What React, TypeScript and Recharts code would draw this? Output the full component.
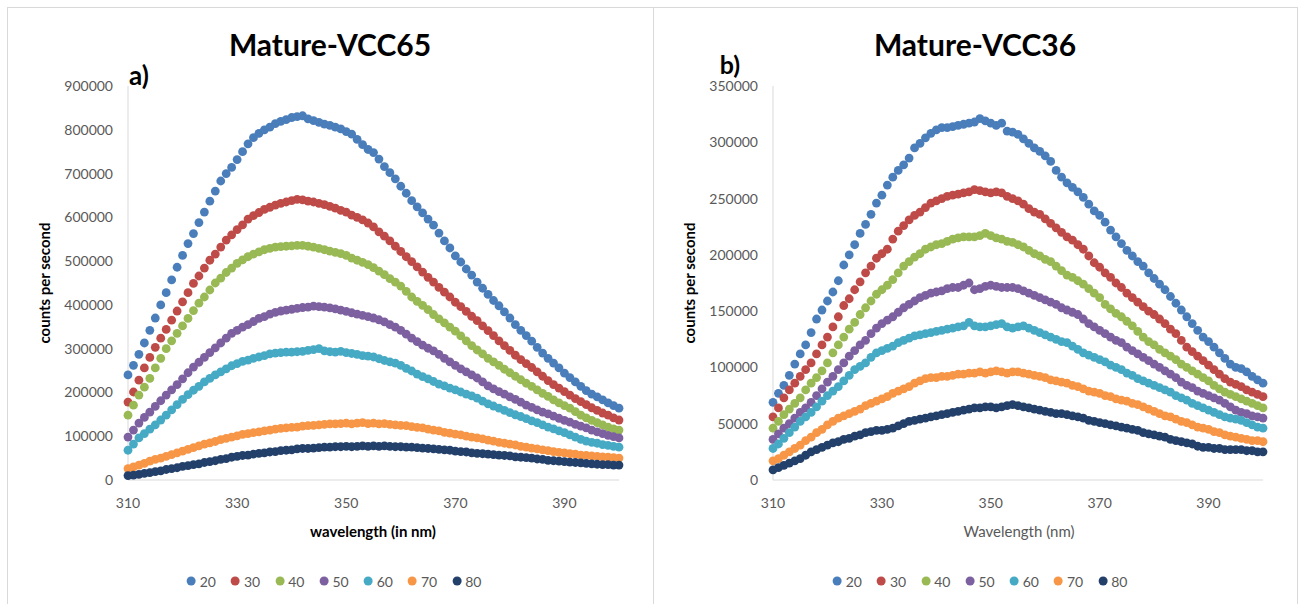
import { Scatter, ScatterChart, XAxis, YAxis } from "recharts";

// excitation wavelength, nm
const wavelength = [
  310, 311, 312, 313, 314, 315, 316, 317, 318, 319,
  320, 321, 322, 323, 324, 325, 326, 327, 328, 329,
  330, 331, 332, 333, 334, 335, 336, 337, 338, 339,
  340, 341, 342, 343, 344, 345, 346, 347, 348, 349,
  350, 351, 352, 353, 354, 355, 356, 357, 358, 359,
  360, 361, 362, 363, 364, 365, 366, 367, 368, 369,
  370, 371, 372, 373, 374, 375, 376, 377, 378, 379,
  380, 381, 382, 383, 384, 385, 386, 387, 388, 389,
  390, 391, 392, 393, 394, 395, 396, 397, 398, 399, 400,
];

const temps = ["20", "30", "40", "50", "60", "70", "80"];
const colors = ["#4A7EBB", "#BE4B48", "#98B954", "#7D60A0", "#46AAC5", "#F79646", "#23406B"];

// panel a) Mature-VCC65, counts per second in thousands
const a20 = [
  240, 262, 287, 313, 342, 370, 400, 428, 457, 486,
  513, 540, 563, 588, 612, 637, 660, 683, 700, 714,
  732, 750, 768, 782, 792, 800, 806, 814, 819, 823,
  828, 830, 832, 825, 821, 817, 813, 810, 806, 802,
  796, 790, 778, 766, 755, 748, 733, 716, 702, 688,
  671, 655, 638, 624, 610, 596, 582, 564, 546, 530,
  512, 498, 482, 468, 452, 438, 424, 410, 398, 384,
  370, 355, 342, 330, 317, 303, 290, 278, 267, 256,
  244, 234, 224, 214, 204, 196, 190, 183, 176, 170, 164,
];
const a30 = [
  178, 201, 228, 256, 280, 303, 324, 344, 365, 386,
  407, 428, 449, 466, 484, 502, 516, 532, 548, 560,
  572, 583, 596, 604, 611, 618, 623, 628, 632, 635,
  638, 641, 640, 637, 635, 632, 629, 625, 621, 616,
  612, 605, 600, 594, 587, 578, 567, 557, 546, 534,
  522, 510, 499, 487, 475, 463, 452, 440, 429, 418,
  406, 396, 385, 374, 364, 352, 341, 330, 318, 307,
  296, 285, 275, 266, 257, 247, 237, 227, 218, 210,
  202, 194, 186, 179, 172, 165, 159, 153, 148, 142, 137,
];
const a40 = [
  148, 171, 194, 212, 232, 256, 278, 300, 318, 335,
  352, 369, 387, 404, 418, 434, 450, 461, 474, 484,
  495, 503, 510, 516, 521, 526, 529, 532, 533, 534,
  535, 536, 536, 534, 532, 529, 526, 523, 520, 517,
  513, 507, 502, 497, 492, 485, 477, 469, 460, 452,
  443, 431, 418, 408, 399, 389, 378, 368, 359, 349,
  340, 329, 318, 307, 297, 288, 278, 270, 262, 253,
  245, 237, 229, 221, 214, 206, 198, 191, 183, 176,
  170, 164, 156, 148, 142, 136, 131, 126, 121, 117, 114,
];
const a50 = [
  98, 114, 130, 143, 155, 168, 181, 194, 206, 218,
  231, 245, 258, 269, 280, 291, 302, 313, 324, 335,
  342, 349, 355, 362, 369, 373, 379, 383, 386, 388,
  390, 392, 394, 395, 397, 396, 395, 393, 391, 388,
  385, 382, 379, 376, 373, 370, 366, 361, 355, 349,
  342, 333, 324, 316, 308, 301, 295, 287, 278, 270,
  262, 254, 247, 240, 233, 224, 215, 208, 202, 196,
  190, 184, 178, 171, 166, 160, 155, 151, 146, 141,
  136, 132, 127, 123, 119, 114, 110, 106, 102, 99, 96,
];
const a60 = [
  68, 82, 96, 106, 116, 126, 137, 148, 160, 172,
  184, 195, 205, 214, 224, 232, 240, 247, 254, 261,
  266, 271, 274, 278, 281, 284, 288, 290, 291, 292,
  292, 293, 294, 296, 298, 300, 295, 293, 292, 294,
  291, 289, 287, 284, 283, 281, 277, 273, 270, 267,
  262, 255, 249, 242, 236, 231, 225, 219, 215, 210,
  206, 201, 196, 192, 187, 180, 174, 169, 164, 159,
  154, 149, 145, 140, 135, 131, 126, 121, 117, 112,
  108, 103, 98, 93, 89, 86, 84, 81, 79, 77, 75,
];
const a70 = [
  26, 30, 34, 38, 43, 47, 50, 54, 58, 62,
  66, 70, 74, 78, 82, 85, 88, 92, 95, 98,
  101, 104, 106, 108, 110, 112, 114, 116, 118, 119,
  120, 121, 123, 124, 125, 126, 127, 128, 128, 129,
  130, 128, 130, 131, 129, 130, 128, 129, 127, 126,
  125, 124, 122, 120, 119, 116, 114, 112, 109, 107,
  105, 103, 100, 98, 96, 94, 91, 89, 86, 84,
  82, 80, 77, 75, 73, 71, 69, 67, 65, 63,
  62, 60, 59, 57, 56, 55, 54, 53, 52, 51, 50,
];
const a80 = [
  10, 11, 13, 15, 17, 19, 21, 24, 26, 28,
  31, 33, 35, 37, 40, 42, 44, 47, 49, 52,
  54, 56, 57, 59, 61, 62, 64, 65, 67, 68,
  69, 71, 72, 72, 73, 74, 75, 75, 76, 76,
  77, 76, 77, 78, 77, 78, 77, 78, 77, 76,
  76, 75, 75, 74, 73, 72, 71, 70, 69, 68,
  66, 65, 64, 62, 61, 60, 59, 58, 57, 56,
  55, 53, 52, 51, 50, 48, 47, 45, 44, 43,
  42, 41, 40, 39, 38, 37, 36, 35, 35, 34, 34,
];

// panel b) Mature-VCC36, counts per second in thousands
const b20 = [
  69, 77, 84, 93, 103, 112, 120, 131, 143, 151,
  159, 167, 177, 191, 200, 209, 219, 227, 236, 246,
  253, 262, 269, 275, 280, 286, 295, 299, 304, 308,
  311, 313, 313, 314, 315, 316, 317, 318, 321, 319,
  317, 315, 317, 310, 309, 307, 303, 299, 295, 292,
  288, 283, 275, 269, 264, 260, 256, 251, 245, 239,
  235, 229, 222, 216, 210, 204, 199, 194, 190, 184,
  179, 174, 169, 163, 157, 151, 145, 139, 133, 127,
  123, 118, 113, 108, 103, 100, 99, 96, 92, 89, 86,
];
const b30 = [
  56, 64, 73, 80, 86, 92, 98, 104, 112, 120,
  127, 136, 145, 155, 161, 169, 176, 184, 190, 197,
  201, 205, 214, 221, 226, 231, 235, 238, 242, 246,
  248, 250, 252, 253, 254, 255, 256, 258, 257, 256,
  255, 256, 255, 252, 250, 248, 245, 241, 238, 236,
  232, 228, 224, 220, 216, 213, 209, 205, 199, 193,
  189, 184, 180, 175, 171, 166, 162, 158, 154, 150,
  147, 143, 139, 134, 130, 124, 118, 114, 110, 106,
  102, 98, 94, 90, 87, 85, 83, 80, 78, 76, 74,
];
const b40 = [
  46, 52, 58, 63, 68, 73, 80, 86, 91, 97,
  104, 113, 120, 127, 134, 140, 147, 153, 159, 165,
  169, 173, 178, 184, 190, 194, 198, 201, 205, 207,
  209, 210, 212, 214, 215, 216, 216, 216, 217, 219,
  217, 215, 214, 212, 211, 209, 207, 204, 201, 199,
  196, 194, 190, 186, 182, 180, 177, 174, 170, 166,
  162, 156, 152, 148, 145, 141, 137, 132, 127, 123,
  120, 116, 113, 110, 107, 103, 100, 97, 94, 91,
  88, 84, 81, 78, 76, 74, 72, 70, 68, 66, 64,
];
const b50 = [
  36, 41, 46, 50, 55, 60, 64, 69, 75, 81,
  87, 92, 98, 104, 110, 115, 120, 124, 130, 135,
  139, 142, 145, 149, 153, 156, 159, 162, 164, 166,
  167, 168, 170, 171, 171, 173, 175, 169, 170, 172,
  173, 172, 171, 171, 171, 170, 168, 166, 164, 162,
  160, 158, 156, 153, 151, 149, 147, 143, 139, 136,
  133, 130, 127, 124, 122, 118, 115, 112, 109, 106,
  103, 100, 97, 94, 91, 87, 84, 82, 79, 77,
  75, 73, 71, 68, 65, 62, 60, 59, 57, 56, 55,
];
const b60 = [
  28, 32, 37, 42, 47, 52, 56, 60, 65, 70,
  75, 79, 83, 88, 93, 98, 101, 104, 109, 113,
  115, 117, 119, 122, 124, 126, 128, 129, 130, 131,
  132, 133, 134, 135, 136, 137, 140, 137, 136, 136,
  137, 138, 139, 136, 135, 136, 137, 135, 133, 131,
  129, 127, 125, 123, 122, 119, 116, 113, 111, 109,
  107, 105, 102, 100, 98, 95, 93, 90, 88, 86,
  84, 82, 80, 78, 75, 73, 71, 68, 66, 64,
  62, 60, 58, 56, 55, 54, 53, 51, 49, 47, 46,
];
const b70 = [
  17, 19, 22, 25, 28, 31, 35, 38, 42, 45,
  49, 52, 55, 57, 59, 61, 63, 66, 68, 70,
  72, 74, 77, 79, 81, 83, 86, 88, 90, 91,
  91, 92, 92, 93, 94, 94, 95, 95, 96, 95,
  96, 97, 96, 95, 96, 96, 95, 94, 93, 92,
  91, 89, 88, 87, 86, 84, 83, 81, 79, 78,
  77, 75, 74, 72, 71, 70, 68, 67, 65, 63,
  61, 59, 57, 56, 54, 52, 51, 49, 47, 46,
  45, 43, 42, 40, 39, 38, 37, 36, 35, 35, 34,
];
const b80 = [
  9, 11, 13, 15, 17, 19, 22, 25, 27, 29,
  31, 33, 34, 36, 37, 39, 40, 42, 43, 44,
  44, 45, 46, 48, 50, 52, 53, 54, 55, 56,
  57, 58, 59, 60, 61, 62, 63, 64, 64, 65,
  65, 64, 65, 66, 67, 66, 65, 64, 63, 62,
  61, 60, 59, 59, 58, 57, 56, 55, 53, 52,
  51, 50, 49, 48, 47, 46, 45, 44, 42, 41,
  40, 39, 38, 36, 35, 34, 33, 32, 30, 29,
  29, 28, 28, 27, 27, 27, 27, 26, 26, 25, 25,
];

const xTicks = [310, 330, 350, 370, 390];
const aTicks = [0, 100000, 200000, 300000, 400000, 500000, 600000, 700000, 800000, 900000];
const bTicks = [0, 50000, 100000, 150000, 200000, 250000, 300000, 350000];

const font = "Lato, 'Open Sans', sans-serif";
const tickStyle = { fill: "#595959", fontSize: 14, fontFamily: font };
const gridGray = "#d9d9d9";

const toPoints = (vals: number[]) => wavelength.map((x, i) => ({ x, y: vals[i] * 1000 }));

function Panel({
  left, width, margin, series, yTicks,
}: {
  left: number;
  width: number;
  margin: { top: number; right: number; bottom: number; left: number };
  series: number[][];
  yTicks: number[];
}) {
  return (
    <div style={{ position: "absolute", left, top: 0 }}>
      <ScatterChart width={width} height={604} margin={margin}>
        <XAxis
          type="number" dataKey="x" domain={[310, 400]} ticks={xTicks} interval={0}
          tickLine={false} axisLine={{ stroke: gridGray }} tick={tickStyle}
          tickSize={8} tickMargin={10} height={30}
        />
        <YAxis
          type="number" dataKey="y" domain={[0, yTicks[yTicks.length - 1]]} ticks={yTicks} interval={0}
          tickLine={false} axisLine={{ stroke: gridGray }} tick={tickStyle}
          tickSize={8} tickMargin={7} width={80}
        />
        {series.map((vals, i) => (
          <Scatter
            key={temps[i]}
            name={temps[i]}
            data={toPoints(vals)}
            fill={colors[i]}
            isAnimationActive={false}
            shape={(p: any) => <circle cx={p.cx} cy={p.cy} r={4.4} fill={colors[i]} />}
          />
        ))}
      </ScatterChart>
    </div>
  );
}

function Legend({ cx, cy }: { cx: number; cy: number }) {
  return (
    <div
      style={{
        position: "absolute", left: cx, top: cy, transform: "translate(-50%, -50%)",
        display: "flex", alignItems: "center", whiteSpace: "nowrap",
        fontFamily: font, fontSize: 14, color: "#595959",
      }}
    >
      {temps.map((t, i) => (
        <span key={t} style={{ display: "flex", alignItems: "center", marginRight: i < temps.length - 1 ? 15 : 0 }}>
          <span style={{ width: 9, height: 9, borderRadius: "50%", background: colors[i], marginRight: 4 }} />
          {t}
        </span>
      ))}
    </div>
  );
}

const centered = (x: number, y: number, extra: object = {}) => ({
  position: "absolute" as const, left: x, top: y, transform: "translate(-50%, -50%)",
  whiteSpace: "nowrap" as const, lineHeight: 1, fontFamily: font, ...extra,
});

export default function App() {
  return (
    <div style={{ position: "absolute", left: 0, top: 0, width: 1301, height: 604, background: "#fff", overflow: "hidden" }}>
      {/* рамки панелей */}
      <div style={{ position: "absolute", left: 7, top: 7, width: 645, height: 640, border: `1px solid ${gridGray}` }} />
      <div style={{ position: "absolute", left: 652, top: 7, width: 645, height: 640, borderTop: `1px solid ${gridGray}`, borderRight: `1px solid ${gridGray}` }} />

      <Panel left={0} width={650} margin={{ top: 86, right: 31, bottom: 94, left: 48 }} series={[a20, a30, a40, a50, a60, a70, a80]} yTicks={aTicks} />
      <Panel left={650} width={651} margin={{ top: 86, right: 38, bottom: 94, left: 43 }} series={[b20, b30, b40, b50, b60, b70, b80]} yTicks={bTicks} />

      <div style={centered(330, 44, { fontSize: 30, fontWeight: 700 })}>Mature-VCC65</div>
      <div style={centered(975, 44, { fontSize: 30, fontWeight: 700 })}>Mature-VCC36</div>
      <div style={centered(139, 75, { fontSize: 26, fontWeight: 700 })}>a)</div>
      <div style={centered(730, 64, { fontSize: 25, fontWeight: 700 })}>b)</div>

      <div style={centered(44, 283, { fontSize: 15, fontWeight: 700, transform: "translate(-50%, -50%) rotate(-90deg)" })}>counts per second</div>
      <div style={centered(689, 283, { fontSize: 15, fontWeight: 700, transform: "translate(-50%, -50%) rotate(-90deg)" })}>counts per second</div>

      <div style={centered(373, 531, { fontSize: 15, fontWeight: 700 })}>wavelength (in nm)</div>
      <div style={centered(1019, 531, { fontSize: 15, color: "#595959" })}>Wavelength (nm)</div>

      <Legend cx={334} cy={581} />
      <Legend cx={980} cy={581} />
    </div>
  );
}
